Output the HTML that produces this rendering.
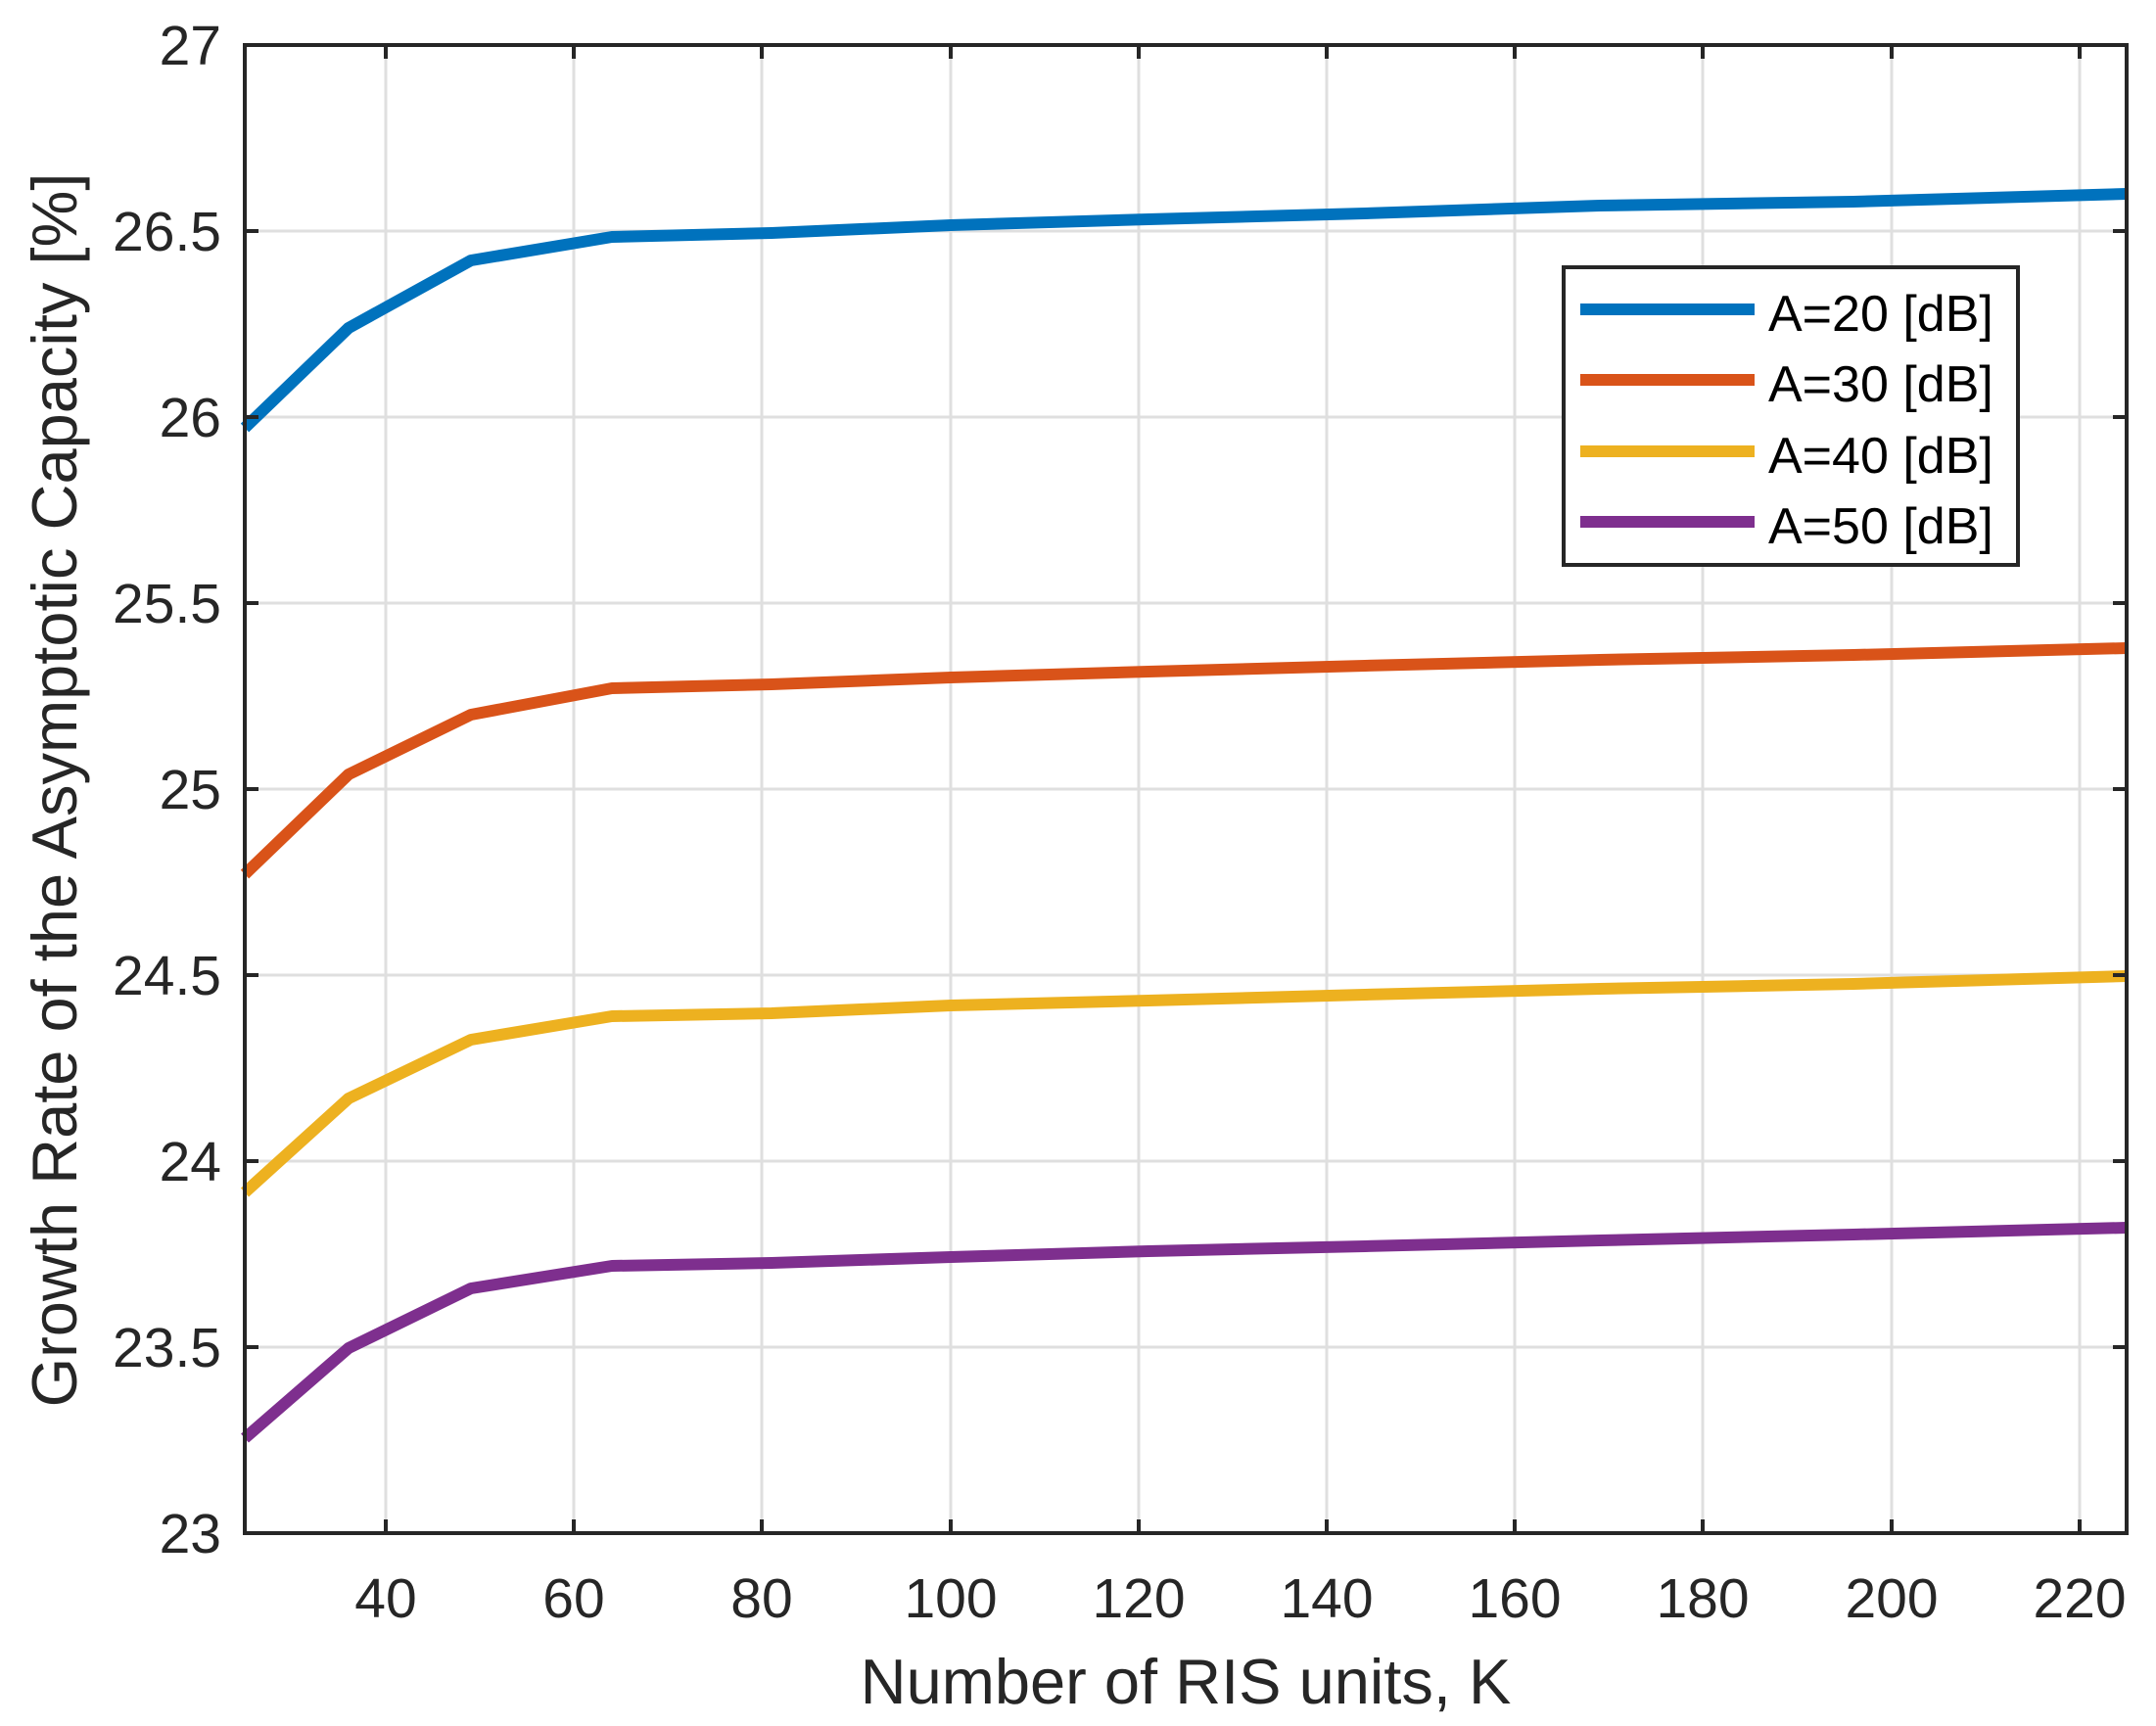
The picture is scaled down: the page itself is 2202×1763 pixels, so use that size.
<!DOCTYPE html>
<html><head><style>html,body{margin:0;padding:0;background:#fff}</style></head>
<body>
<svg width="2202" height="1758" xmlns="http://www.w3.org/2000/svg" font-family="Liberation Sans, Arial, sans-serif">
<rect width="2202" height="1758" fill="#fff"/>
<g stroke="#dfdfdf" stroke-width="3">
<line x1="394" y1="46" x2="394" y2="1566"/><line x1="586" y1="46" x2="586" y2="1566"/><line x1="778" y1="46" x2="778" y2="1566"/><line x1="971" y1="46" x2="971" y2="1566"/><line x1="1163" y1="46" x2="1163" y2="1566"/><line x1="1355" y1="46" x2="1355" y2="1566"/><line x1="1547" y1="46" x2="1547" y2="1566"/><line x1="1739" y1="46" x2="1739" y2="1566"/><line x1="1932" y1="46" x2="1932" y2="1566"/><line x1="2124" y1="46" x2="2124" y2="1566"/>
<line x1="250" y1="236" x2="2172" y2="236"/><line x1="250" y1="426" x2="2172" y2="426"/><line x1="250" y1="616" x2="2172" y2="616"/><line x1="250" y1="806" x2="2172" y2="806"/><line x1="250" y1="996" x2="2172" y2="996"/><line x1="250" y1="1186" x2="2172" y2="1186"/><line x1="250" y1="1376" x2="2172" y2="1376"/>
</g>
<g fill="none" stroke-width="12" stroke-linejoin="round">
<polyline stroke="#0072BD" points="250,437 356,335 481,266 625,242 788,238 971,230 1173,224 1394,218 1634,210 1893,206 2172,198"/>
<polyline stroke="#D95319" points="250,893 356,791 481,730 625,703 788,699 971,692 1173,686 1394,680 1634,674 1893,669 2172,662"/>
<polyline stroke="#EDB120" points="250,1218 356,1122 481,1062 625,1038 788,1035 971,1027 1173,1022 1394,1016 1634,1010 1893,1005 2172,997"/>
<polyline stroke="#7E2F8E" points="250,1469 356,1377 481,1316 625,1293 788,1290 971,1284 1173,1278 1394,1273 1634,1267 1893,1261 2172,1254"/>
</g>
<g stroke="#262626" stroke-width="4" fill="none">
<rect x="250" y="46" width="1922" height="1520"/>
<path d="M394,1566v-14M586,1566v-14M778,1566v-14M971,1566v-14M1163,1566v-14M1355,1566v-14M1547,1566v-14M1739,1566v-14M1932,1566v-14M2124,1566v-14
M394,46v14M586,46v14M778,46v14M971,46v14M1163,46v14M1355,46v14M1547,46v14M1739,46v14M1932,46v14M2124,46v14
M250,236h14M250,426h14M250,616h14M250,806h14M250,996h14M250,1186h14M250,1376h14
M2172,236h-14M2172,426h-14M2172,616h-14M2172,806h-14M2172,996h-14M2172,1186h-14M2172,1376h-14"/>
</g>
<g fill="#262626" font-size="57" text-anchor="end">
<text x="226" y="66">27</text><text x="226" y="256">26.5</text><text x="226" y="446">26</text><text x="226" y="636">25.5</text><text x="226" y="826">25</text><text x="226" y="1016">24.5</text><text x="226" y="1206">24</text><text x="226" y="1396">23.5</text><text x="226" y="1586">23</text>
</g>
<g fill="#262626" font-size="57" text-anchor="middle">
<text x="394" y="1652">40</text><text x="586" y="1652">60</text><text x="778" y="1652">80</text><text x="971" y="1652">100</text><text x="1163" y="1652">120</text><text x="1355" y="1652">140</text><text x="1547" y="1652">160</text><text x="1739" y="1652">180</text><text x="1932" y="1652">200</text><text x="2124" y="1652">220</text>
</g>
<text x="1211" y="1740" font-size="65" fill="#262626" text-anchor="middle">Number of RIS units, K</text>
<text transform="translate(78,807) rotate(-90)" font-size="65" fill="#262626" text-anchor="middle">Growth Rate of the Asymptotic Capacity [%]</text>
<rect x="1597" y="273" width="464" height="304" fill="#fff" stroke="#262626" stroke-width="4"/>
<g stroke-width="12">
<line x1="1614" y1="316" x2="1792" y2="316" stroke="#0072BD"/>
<line x1="1614" y1="388" x2="1792" y2="388" stroke="#D95319"/>
<line x1="1614" y1="461" x2="1792" y2="461" stroke="#EDB120"/>
<line x1="1614" y1="533" x2="1792" y2="533" stroke="#7E2F8E"/>
</g>
<g font-size="52" fill="#000">
<text x="1806" y="338">A=20 [dB]</text><text x="1806" y="410">A=30 [dB]</text><text x="1806" y="483">A=40 [dB]</text><text x="1806" y="555">A=50 [dB]</text>
</g>
</svg>
</body></html>
